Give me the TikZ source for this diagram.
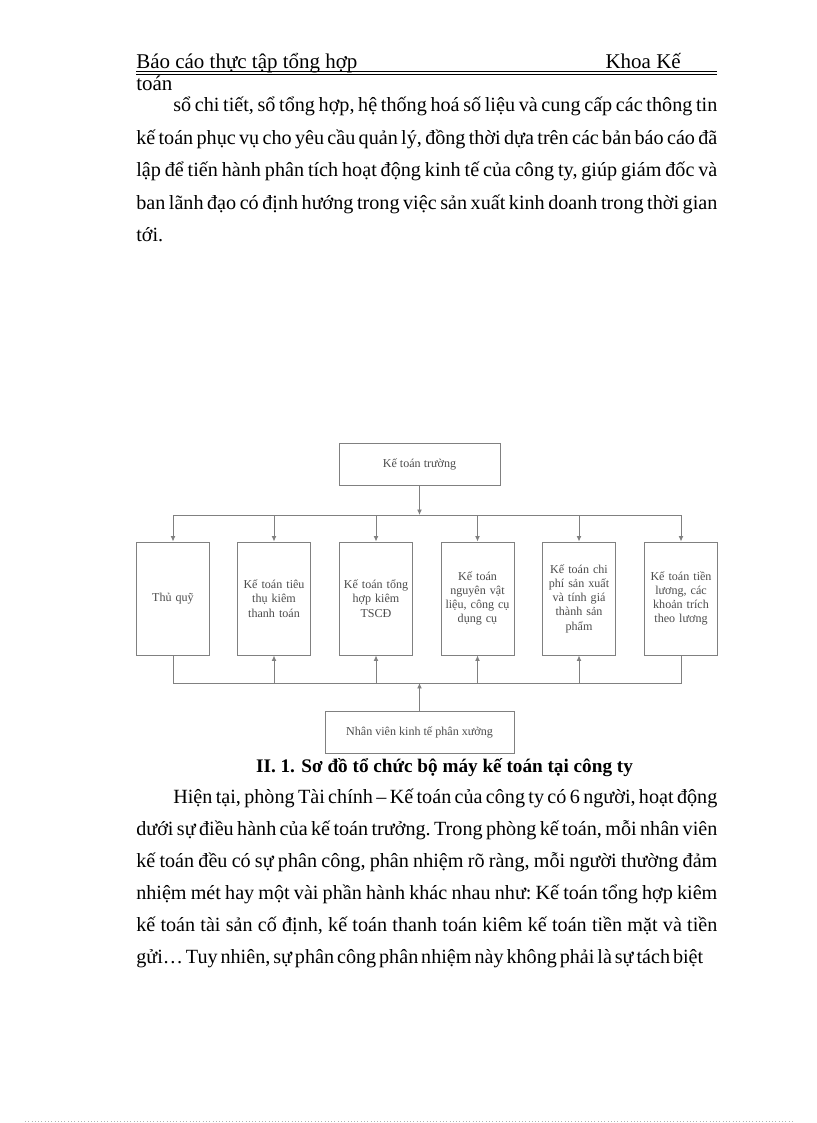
\documentclass[tikz,border=0pt]{standalone}
\usepackage{fontspec}
\setmainfont{Liberation Serif}
\usetikzlibrary{arrows.meta}

% co chu van ban
\newcommand\cochu{\fontsize{14.7}{18}\selectfont}
% dong van ban can deu hai ben
\newcommand\dongdeu[2]{{\frenchspacing\spaceskip 0pt plus 1fil\relax\makebox[#1][s]{#2}}}

\begin{document}
\begin{tikzpicture}[x=0.7292pt, y=-0.7292pt, >={Latex[length=4pt,width=3.6pt]},
    chu/.style={anchor=base west, inner sep=0pt, font=\cochu},
    hop/.style={draw=black!50, line width=0.7pt, fill=white, inner sep=1pt, align=center,
        text=black!70, font=\fontsize{8.8}{10.4}\selectfont},
    cot/.style={hop, minimum width=53.2pt, minimum height=82.4pt, text width=51pt},
    noi/.style={draw=black!50, line width=0.7pt}]

    \useasboundingbox (0,0) rectangle (816,1123);

    % 1. Tiêu đề trang
    \node[chu, font=\fontsize{15.3}{18}\selectfont] (tde) at (136,69) {Báo cáo thực tập tổng hợp};
    \node[chu, font=\fontsize{15.3}{18}\selectfont, anchor=base east] (khoa) at (681,69) {Khoa Kế};
    \draw[line width=0.6pt] (136,71) -- (717,71);
    \draw[line width=0.6pt] (136,74) -- (717,74);
    \node[chu, font=\fontsize{15.3}{18}\selectfont] (khoa2) at (136,91) {toán};

    % 2. Đoạn văn phía trên
    \node[chu] (p1) at (173,112) {\dongdeu{396.7pt}{sổ chi tiết, sổ tổng hợp, hệ thống hoá số liệu và cung cấp các thông tin}};
    \node[chu] (p2) at (136,144.4) {\dongdeu{423.7pt}{kế toán phục vụ cho yêu cầu quản lý, đồng thời dựa trên các bản báo cáo đã}};
    \node[chu] (p3) at (136,176.8) {\dongdeu{423.7pt}{lập để tiến hành phân tích hoạt động kinh tế của công ty, giúp giám đốc và}};
    \node[chu] (p4) at (136,209.2) {\dongdeu{423.7pt}{ban lãnh đạo có định hướng trong việc sản xuất kinh doanh trong thời gian}};
    \node[chu] (p5) at (136,241.6) {tới.};

    % 3. Các ô của sơ đồ
    \node[hop, minimum width=117.4pt, minimum height=30.6pt] (ktt) at (419.5,464) {Kế toán trường};
    \node[cot] (b1) at (173,598.5) {Thủ quỹ};
    \node[cot] (b2) at (274,598.5) {Kế toán tiêu\\thụ kiêm\\thanh toán};
    \node[cot] (b3) at (376,598.5) {Kế toán tổng\\hợp kiêm\\TSCĐ};
    \node[cot] (b4) at (477.5,598.5) {Kế toán\\nguyên vật\\liệu, công cụ\\dụng cụ};
    \node[cot] (b5) at (579,598.5) {Kế toán chi\\phí sản xuất\\và tính giá\\thành sản\\phẩm};
    \node[cot] (b6) at (681,598.5) {Kế toán tiền\\lương, các\\khoản trích\\theo lương};
    \node[hop, minimum width=137.8pt, minimum height=30.6pt] (nv) at (419.5,732) {Nhân viên kinh tế phân xưởng};

    % 4. Đường nối
    \coordinate (tren) at (0,515);
    \coordinate (duoi) at (0,683);
    \draw[noi, ->] (ktt.south) -- (ktt.south |- tren);
    \draw[noi] (b1.north |- tren) -- (b6.north |- tren);
    \foreach \b in {b1,b2,b3,b4,b5,b6}
        \draw[noi, ->] (\b.north |- tren) -- (\b.north);
    \draw[noi] (b1.south) -- (b1.south |- duoi) -- (b6.south |- duoi) -- (b6.south);
    \foreach \b in {b2,b3,b4,b5}
        \draw[noi, ->] (\b.south |- duoi) -- (\b.south);
    \draw[noi, ->] (nv.north) -- (nv.north |- duoi);

    % 5. Tên sơ đồ
    \node[chu, anchor=base, font=\fontsize{14}{18}\selectfont\bfseries] (ten) at (444.5,772)
        {II. 1. Sơ đồ tổ chức bộ máy kế toán tại công ty};

    % 6. Đoạn văn phía dưới
    \node[chu] (q1) at (173,803) {\dongdeu{396.7pt}{Hiện tại, phòng Tài chính – Kế toán của công ty có 6 người, hoạt động}};
    \node[chu] (q2) at (136,835) {\dongdeu{423.7pt}{dưới sự điều hành của kế toán trưởng. Trong phòng kế toán, mỗi nhân viên}};
    \node[chu] (q3) at (136,867) {\dongdeu{423.7pt}{kế toán đều có sự phân công, phân nhiệm rõ ràng, mỗi người thường đảm}};
    \node[chu] (q4) at (136,899) {\dongdeu{423.7pt}{nhiệm mét hay một vài phần hành khác nhau như: Kế toán tổng hợp kiêm}};
    \node[chu] (q5) at (136,931) {\dongdeu{423.7pt}{kế toán tài sản cố định, kế toán thanh toán kiêm kế toán tiền mặt và tiền}};
    \node[chu] (q6) at (136,963) {\dongdeu{413.4pt}{gửi… Tuy nhiên, sự phân công phân nhiệm này không phải là sự tách biệt}};

    % 7. Viền chấm cuối trang
    \draw[black!30, dotted] (25,1121.5) -- (792,1121.5);

\end{tikzpicture}
\end{document}
